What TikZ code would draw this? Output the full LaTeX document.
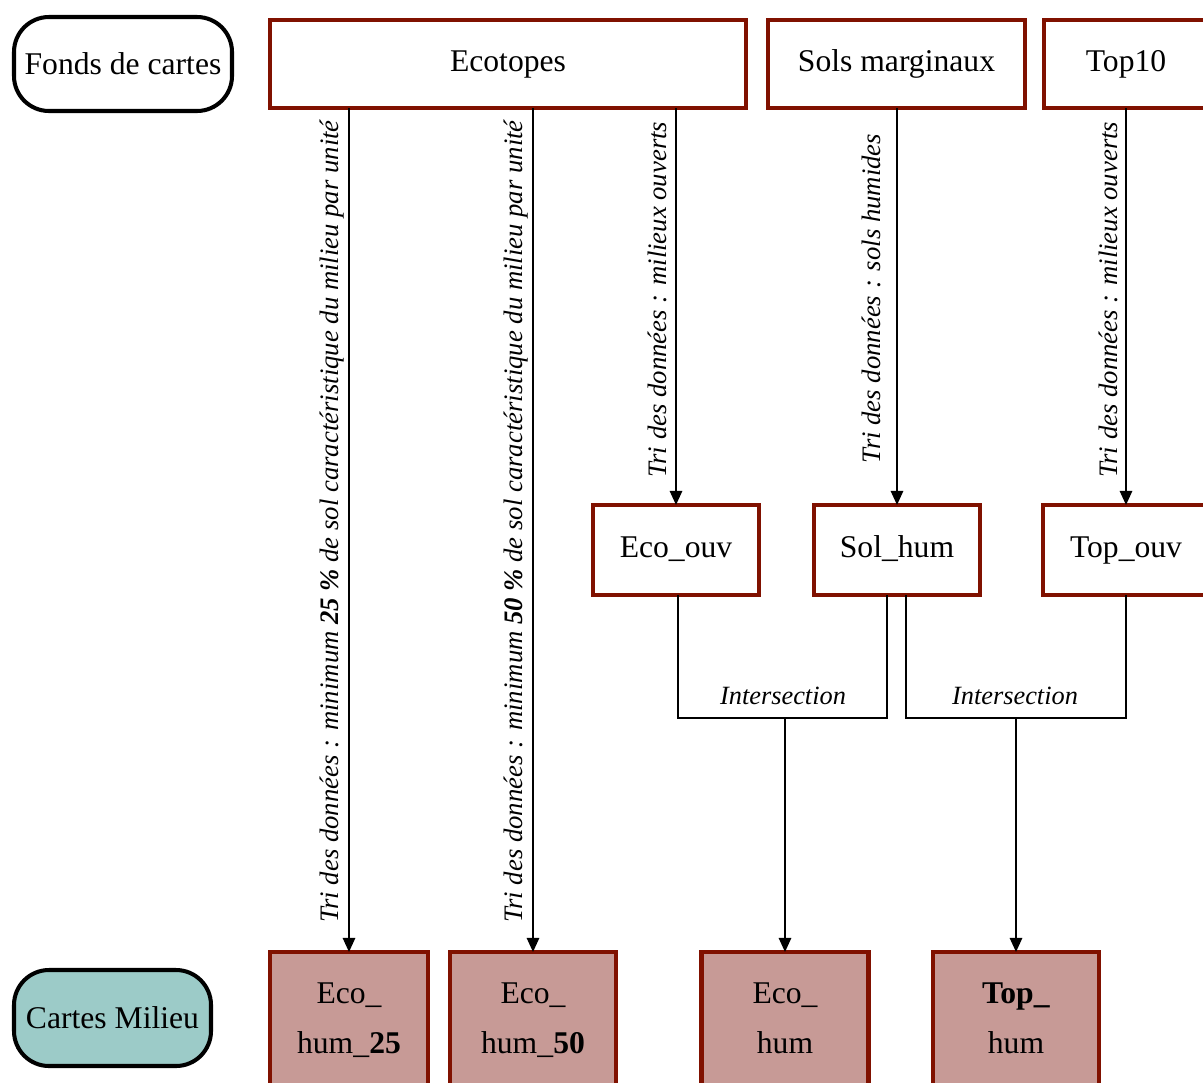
\documentclass[tikz,border=0pt]{standalone}
\usepackage{fontspec}
\setmainfont{Liberation Serif}
\usetikzlibrary{arrows.meta,positioning}
\definecolor{boxred}{RGB}{128,17,0}
\definecolor{boxfill}{RGB}{199,154,150}
\definecolor{tealfill}{RGB}{156,203,200}
\begin{document}
\begin{tikzpicture}[x=0.02cm,y=-0.02cm,
  every node/.style={inner sep=0pt,outer sep=0pt},
  srcbox/.style={draw=boxred,line width=2.3pt,fill=white,text height=12.5pt,text depth=4pt,font=\fontsize{18}{22}\selectfont},
  resbox/.style={draw=boxred,line width=2.3pt,fill=boxfill,align=center,font=\fontsize{18}{28.5}\selectfont},
  legend/.style={draw=black,line width=2.3pt,rounded corners=0.7cm,font=\fontsize{18}{22}\selectfont},
  arr/.style={line width=1.1pt,-{Triangle[width=7pt,length=8pt]}},
  conn/.style={line width=1.1pt},
  lab/.style={rotate=90,anchor=south,inner sep=2.5pt,font=\fontsize{15.2}{18}\selectfont\itshape},
  ilab/.style={anchor=south,inner sep=3pt,font=\fontsize{15}{18}\selectfont\itshape}]
\useasboundingbox (0,0) rectangle (1203,1082);
\begin{scope}
\clip (0,0) rectangle (1203,1082);
% legend
\node[legend,minimum width=218*0.02cm,minimum height=94*0.02cm] (fonds) at (123,64) {Fonds de cartes};
\node[legend,fill=tealfill,minimum width=197*0.02cm,minimum height=96*0.02cm] (cartes) at (112.5,1018) {Cartes Milieu};
% source boxes
\node[srcbox,minimum width=476*0.02cm,minimum height=88*0.02cm] (eco) at (508,64) {Ecotopes};
\node[srcbox,minimum width=257*0.02cm,minimum height=88*0.02cm] (sols) at (896.5,64) {Sols marginaux};
\node[srcbox,minimum width=164*0.02cm,minimum height=88*0.02cm] (top) at (1126,64) {Top10};
% intermediate
\node[srcbox,minimum width=166*0.02cm,minimum height=90*0.02cm] (eouv) at (676,550) {Eco\_ouv};
\node[srcbox,minimum width=166*0.02cm,minimum height=90*0.02cm] (shum) at (897,550) {Sol\_hum};
\node[srcbox,minimum width=166*0.02cm,minimum height=90*0.02cm] (touv) at (1126,550) {Top\_ouv};
% results
\node[resbox,minimum width=158*0.02cm,minimum height=136*0.02cm] (h25) at (349,1020) {Eco\_\\hum\_\textbf{25}};
\node[resbox,minimum width=166*0.02cm,minimum height=136*0.02cm] (h50) at (533,1020) {Eco\_\\hum\_\textbf{50}};
\node[resbox,minimum width=167*0.02cm,minimum height=136*0.02cm] (ehum) at (785,1020) {Eco\_\\hum\vphantom{\_}};
\node[resbox,minimum width=166*0.02cm,minimum height=136*0.02cm] (thum) at (1016,1020) {\textbf{Top\_}\\hum\vphantom{\_}};
% arrows
\draw[arr] (h25.north |- eco.south) -- node[lab,pos=0.49] {Tri des données : minimum \textbf{25 \%} de sol caractéristique du milieu par unité} (h25.north);
\draw[arr] (h50.north |- eco.south) -- node[lab,pos=0.49] {Tri des données : minimum \textbf{50 \%} de sol caractéristique du milieu par unité} (h50.north);
\draw[arr] (eouv.north |- eco.south) -- node[lab,pos=0.483,inner sep=5pt] {Tri des données : milieux ouverts} (eouv.north);
\draw[arr] (sols.south -| shum.north) -- node[lab,pos=0.48,inner sep=9pt] {Tri des données : sols humides} (shum.north);
\draw[arr] (top.south) -- node[lab,pos=0.483,inner sep=4.5pt] {Tri des données : milieux ouverts} (touv.north);
% intersections
\coordinate (j1) at (785,718);
\coordinate (j2) at (1016,718);
\coordinate (s1) at (887,595);
\coordinate (s2) at (906,595);
\draw[conn] ([xshift=0.04cm]eouv.south) |- (j1) -| (s1);
\draw[conn] (s2) |- (j2) -| (touv.south);
\node[ilab] (i1) at (783,710) {Intersection};
\node[ilab] (i2) at (1015,710) {Intersection};
\draw[arr] (j1) -- (ehum.north);
\draw[arr] (j2) -- (thum.north);
\end{scope}
\end{tikzpicture}
\end{document}
